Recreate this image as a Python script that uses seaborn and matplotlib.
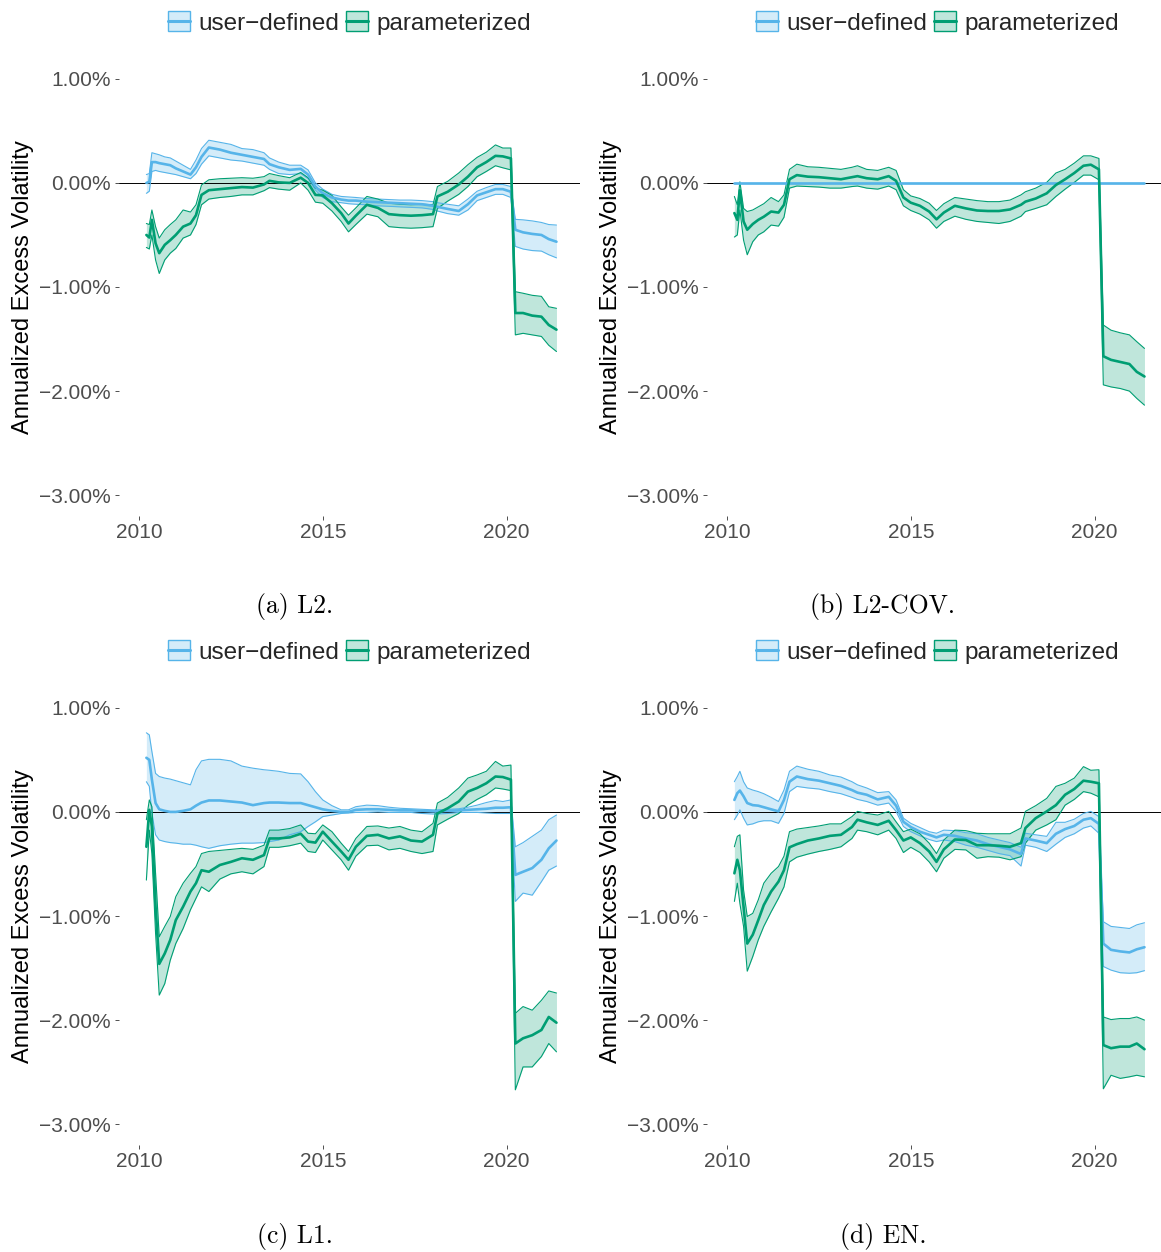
import pandas as pd
import matplotlib
matplotlib.use("Agg")
import matplotlib.pyplot as plt
import seaborn as sns
from matplotlib.patches import Patch
from matplotlib.lines import Line2D
from matplotlib.legend_handler import HandlerTuple
from matplotlib.ticker import FuncFormatter

# decimal years, shared by all panels
years = [2010.20, 2010.28, 2010.35, 2010.45, 2010.55, 2010.70, 2010.85, 2011.00, 2011.20, 2011.40,
         2011.55, 2011.70, 2011.90, 2012.20, 2012.50, 2012.80, 2013.10, 2013.40, 2013.55, 2013.80,
         2014.10, 2014.40, 2014.60, 2014.80, 2015.00, 2015.25, 2015.50, 2015.70, 2015.90, 2016.20,
         2016.50, 2016.80, 2017.10, 2017.40, 2017.70, 2018.00, 2018.12, 2018.40, 2018.70, 2018.95,
         2019.20, 2019.45, 2019.70, 2019.90, 2020.12, 2020.24, 2020.45, 2020.70, 2020.95, 2021.15,
         2021.36]

# values in percent
# (a) L2
l2_user_mean = [0.00, 0.01, 0.20, 0.20, 0.19, 0.18, 0.17, 0.14, 0.11, 0.08, 0.15, 0.25, 0.34, 0.32, 0.29, 0.27, 0.25,
                0.23, 0.18, 0.15, 0.125, 0.135, 0.08, -0.035, -0.10, -0.14, -0.16, -0.17, -0.17, -0.18, -0.185, -0.19,
                -0.195, -0.20, -0.205, -0.22, -0.23, -0.25, -0.27, -0.205, -0.12, -0.09, -0.06, -0.06, -0.085, -0.45,
                -0.475, -0.49, -0.50, -0.54, -0.565]
l2_user_hi = [0.08, 0.09, 0.29, 0.28, 0.27, 0.25, 0.24, 0.21, 0.17, 0.13, 0.22, 0.33, 0.41, 0.39, 0.37, 0.33, 0.32,
              0.29, 0.24, 0.20, 0.17, 0.17, 0.125, 0.00, -0.06, -0.11, -0.13, -0.135, -0.14, -0.15, -0.155, -0.16,
              -0.165, -0.165, -0.17, -0.18, -0.19, -0.205, -0.22, -0.155, -0.08, -0.045, -0.015, -0.015, -0.035,
              -0.35, -0.355, -0.365, -0.38, -0.40, -0.405]
l2_user_lo = [-0.10, -0.08, 0.11, 0.12, 0.11, 0.10, 0.09, 0.08, 0.06, 0.04, 0.09, 0.18, 0.26, 0.24, 0.22, 0.21, 0.19,
              0.17, 0.13, 0.09, 0.08, 0.09, 0.04, -0.07, -0.14, -0.18, -0.19, -0.20, -0.205, -0.21, -0.22, -0.225,
              -0.23, -0.235, -0.24, -0.255, -0.27, -0.295, -0.31, -0.26, -0.17, -0.14, -0.11, -0.11, -0.14, -0.61,
              -0.635, -0.65, -0.655, -0.69, -0.72]
l2_par_mean = [-0.50, -0.525, -0.355, -0.58, -0.675, -0.595, -0.55, -0.50, -0.42, -0.39, -0.31, -0.115, -0.07, -0.06,
               -0.05, -0.04, -0.045, -0.015, 0.02, 0.005, 0.00, 0.05, 0.00, -0.115, -0.12, -0.195, -0.29, -0.39,
               -0.315, -0.21, -0.24, -0.30, -0.31, -0.315, -0.31, -0.30, -0.13, -0.085, -0.015, 0.06, 0.15, 0.20,
               0.26, 0.255, 0.235, -1.25, -1.25, -1.275, -1.285, -1.365, -1.41]
l2_par_hi = [-0.39, -0.40, -0.26, -0.42, -0.53, -0.45, -0.40, -0.355, -0.26, -0.28, -0.21, -0.02, 0.03, 0.04, 0.045,
             0.05, 0.045, 0.06, 0.09, 0.07, 0.05, 0.10, 0.05, -0.05, -0.07, -0.12, -0.23, -0.31, -0.24, -0.13, -0.155,
             -0.195, -0.205, -0.21, -0.205, -0.21, -0.035, 0.015, 0.095, 0.175, 0.245, 0.295, 0.365, 0.335, 0.335,
             -1.045, -1.06, -1.08, -1.09, -1.19, -1.205]
l2_par_lo = [-0.62, -0.635, -0.50, -0.74, -0.87, -0.74, -0.675, -0.63, -0.53, -0.50, -0.40, -0.21, -0.155, -0.14,
             -0.13, -0.115, -0.115, -0.075, -0.045, -0.06, -0.07, 0.00, -0.07, -0.185, -0.195, -0.27, -0.37, -0.47,
             -0.40, -0.30, -0.325, -0.42, -0.43, -0.435, -0.43, -0.42, -0.245, -0.175, -0.11, -0.035, 0.06, 0.11,
             0.165, 0.145, 0.125, -1.46, -1.445, -1.46, -1.475, -1.56, -1.62]

# (b) L2-COV: the user-defined model sits on zero
cov_user_mean = [0.0, 0.0, 0.0, 0.0, 0.0, 0.0, 0.0, 0.0, 0.0, 0.0, 0.0, 0.0, 0.0, 0.0, 0.0, 0.0, 0.0,
                 0.0, 0.0, 0.0, 0.0, 0.0, 0.0, 0.0, 0.0, 0.0, 0.0, 0.0, 0.0, 0.0, 0.0, 0.0, 0.0, 0.0,
                 0.0, 0.0, 0.0, 0.0, 0.0, 0.0, 0.0, 0.0, 0.0, 0.0, 0.0, 0.0, 0.0, 0.0, 0.0, 0.0, 0.0]
cov_user_hi = cov_user_mean
cov_user_lo = cov_user_mean
cov_par_mean = [-0.29, -0.355, -0.07, -0.37, -0.45, -0.395, -0.355, -0.325, -0.275, -0.285, -0.21, 0.035, 0.075,
                0.06, 0.055, 0.045, 0.035, 0.055, 0.065, 0.045, 0.035, 0.065, 0.02, -0.14, -0.19, -0.22, -0.275,
                -0.35, -0.285, -0.22, -0.245, -0.265, -0.27, -0.27, -0.255, -0.21, -0.18, -0.15, -0.10, -0.02,
                0.035, 0.095, 0.165, 0.175, 0.13, -1.665, -1.70, -1.72, -1.74, -1.815, -1.86]
cov_par_hi = [-0.13, -0.21, 0.01, -0.245, -0.275, -0.26, -0.23, -0.20, -0.14, -0.18, -0.115, 0.13, 0.18, 0.155,
              0.15, 0.14, 0.13, 0.15, 0.165, 0.13, 0.12, 0.15, 0.12, -0.065, -0.125, -0.15, -0.195, -0.265, -0.20,
              -0.14, -0.155, -0.17, -0.18, -0.18, -0.165, -0.115, -0.085, -0.05, 0.005, 0.095, 0.13, 0.19, 0.26,
              0.26, 0.235, -1.365, -1.415, -1.44, -1.46, -1.525, -1.59]
cov_par_lo = [-0.52, -0.50, -0.26, -0.55, -0.69, -0.565, -0.50, -0.47, -0.405, -0.415, -0.33, -0.05, -0.03, -0.035,
              -0.04, -0.05, -0.05, -0.035, -0.03, -0.05, -0.06, -0.03, -0.065, -0.22, -0.265, -0.30, -0.355, -0.435,
              -0.37, -0.32, -0.35, -0.37, -0.38, -0.39, -0.37, -0.32, -0.275, -0.245, -0.21, -0.13, -0.06, 0.005,
              0.075, 0.075, 0.03, -1.94, -1.96, -1.975, -2.00, -2.07, -2.135]

# (c) L1
l1_user_mean = [0.52, 0.50, 0.31, 0.085, 0.025, 0.01, 0.00, 0.00, 0.01, 0.025, 0.06, 0.09, 0.11, 0.11, 0.10, 0.09,
                0.065, 0.085, 0.09, 0.09, 0.085, 0.085, 0.065, 0.045, 0.025, 0.01, 0.00, 0.00, 0.02, 0.025, 0.025,
                0.02, 0.015, 0.015, 0.01, 0.005, 0.005, 0.01, 0.015, 0.02, 0.025, 0.03, 0.04, 0.04, 0.045, -0.605,
                -0.575, -0.54, -0.46, -0.35, -0.275]
l1_user_hi = [0.76, 0.74, 0.58, 0.37, 0.34, 0.325, 0.315, 0.30, 0.28, 0.26, 0.405, 0.49, 0.505, 0.505, 0.49, 0.44,
              0.42, 0.405, 0.40, 0.39, 0.37, 0.365, 0.29, 0.195, 0.115, 0.06, 0.02, 0.02, 0.05, 0.065, 0.06, 0.045,
              0.035, 0.03, 0.025, 0.02, 0.02, 0.025, 0.03, 0.045, 0.065, 0.09, 0.11, 0.10, 0.115, -0.335, -0.295,
              -0.235, -0.175, -0.075, -0.03]
l1_user_lo = [0.29, 0.245, -0.01, -0.22, -0.27, -0.285, -0.295, -0.30, -0.31, -0.31, -0.32, -0.335, -0.35, -0.325,
              -0.31, -0.30, -0.30, -0.295, -0.285, -0.27, -0.22, -0.19, -0.14, -0.095, -0.045, -0.03, -0.015, -0.01,
              -0.005, -0.005, 0.00, -0.005, -0.005, -0.005, -0.015, -0.02, -0.02, -0.015, -0.005, -0.005, -0.005,
              -0.01, -0.015, -0.015, -0.015, -0.86, -0.78, -0.80, -0.67, -0.56, -0.52]
l1_par_mean = [-0.335, 0.02, -0.14, -0.91, -1.46, -1.36, -1.23, -1.04, -0.91, -0.765, -0.685, -0.56, -0.575, -0.51,
               -0.48, -0.445, -0.46, -0.415, -0.255, -0.255, -0.245, -0.21, -0.285, -0.295, -0.19, -0.285, -0.38,
               -0.46, -0.335, -0.23, -0.22, -0.255, -0.235, -0.275, -0.285, -0.22, -0.015, 0.035, 0.10, 0.195, 0.23,
               0.275, 0.34, 0.335, 0.31, -2.225, -2.175, -2.145, -2.095, -1.97, -2.025]
l1_par_hi = [-0.075, 0.115, 0.05, -0.59, -1.20, -1.10, -1.005, -0.815, -0.685, -0.59, -0.525, -0.40, -0.38, -0.37,
             -0.36, -0.35, -0.36, -0.32, -0.175, -0.175, -0.16, -0.125, -0.205, -0.21, -0.125, -0.19, -0.30, -0.38,
             -0.255, -0.14, -0.135, -0.155, -0.14, -0.175, -0.19, -0.11, 0.085, 0.14, 0.23, 0.325, 0.355, 0.39, 0.485,
             0.44, 0.45, -1.935, -1.87, -1.905, -1.81, -1.72, -1.74]
l1_par_lo = [-0.655, -0.175, -0.40, -1.165, -1.76, -1.65, -1.425, -1.265, -1.12, -0.94, -0.83, -0.72, -0.765, -0.645,
             -0.595, -0.575, -0.595, -0.525, -0.34, -0.34, -0.325, -0.30, -0.38, -0.39, -0.27, -0.365, -0.46, -0.56,
             -0.425, -0.325, -0.32, -0.365, -0.35, -0.38, -0.40, -0.38, -0.125, -0.07, -0.015, 0.065, 0.12, 0.165,
             0.23, 0.22, 0.205, -2.67, -2.45, -2.45, -2.35, -2.225, -2.305]

# (d) EN
en_user_mean = [0.115, 0.18, 0.205, 0.15, 0.085, 0.065, 0.06, 0.045, 0.025, 0.005, 0.115, 0.29, 0.34, 0.315, 0.30,
                0.275, 0.25, 0.21, 0.185, 0.165, 0.12, 0.145, 0.06, -0.095, -0.145, -0.19, -0.22, -0.245, -0.22,
                -0.23, -0.255, -0.275, -0.31, -0.335, -0.36, -0.405, -0.255, -0.275, -0.30, -0.21, -0.165, -0.135,
                -0.075, -0.06, -0.115, -1.265, -1.325, -1.34, -1.35, -1.32, -1.30]
en_user_hi = [0.29, 0.34, 0.39, 0.29, 0.23, 0.21, 0.195, 0.175, 0.14, 0.10, 0.21, 0.39, 0.44, 0.41, 0.39, 0.355,
              0.335, 0.29, 0.26, 0.23, 0.185, 0.195, 0.115, -0.06, -0.11, -0.15, -0.19, -0.205, -0.175, -0.18, -0.20,
              -0.21, -0.245, -0.27, -0.295, -0.34, -0.205, -0.22, -0.235, -0.10, -0.10, -0.07, -0.015, 0.005, -0.045,
              -1.055, -1.10, -1.11, -1.12, -1.085, -1.065]
en_user_lo = [-0.075, -0.03, 0.02, -0.06, -0.125, -0.115, -0.095, -0.085, -0.085, -0.11, -0.015, 0.195, 0.245, 0.23,
              0.22, 0.195, 0.175, 0.14, 0.12, 0.10, 0.065, 0.085, 0.005, -0.14, -0.19, -0.23, -0.265, -0.285, -0.27,
              -0.285, -0.32, -0.34, -0.37, -0.40, -0.42, -0.52, -0.32, -0.34, -0.38, -0.31, -0.245, -0.21, -0.155,
              -0.135, -0.205, -1.485, -1.52, -1.545, -1.55, -1.545, -1.525]
en_par_mean = [-0.59, -0.46, -0.56, -0.91, -1.265, -1.18, -1.04, -0.895, -0.765, -0.67, -0.56, -0.34, -0.31, -0.275,
               -0.255, -0.23, -0.22, -0.145, -0.075, -0.10, -0.125, -0.085, -0.175, -0.275, -0.245, -0.30, -0.38,
               -0.48, -0.36, -0.265, -0.27, -0.32, -0.32, -0.325, -0.335, -0.30, -0.155, -0.06, 0.005, 0.065, 0.165,
               0.22, 0.30, 0.29, 0.275, -2.24, -2.27, -2.255, -2.255, -2.225, -2.28]
en_par_hi = [-0.335, -0.235, -0.22, -0.75, -1.005, -0.975, -0.845, -0.685, -0.59, -0.525, -0.425, -0.19, -0.165,
             -0.15, -0.135, -0.115, -0.115, -0.045, 0.005, -0.015, -0.03, 0.005, -0.095, -0.19, -0.165, -0.21, -0.30,
             -0.40, -0.27, -0.175, -0.18, -0.205, -0.21, -0.21, -0.21, -0.155, 0.005, 0.06, 0.13, 0.245, 0.275,
             0.325, 0.435, 0.40, 0.405, -1.97, -1.995, -1.985, -1.985, -1.97, -2.00]
en_par_lo = [-0.86, -0.685, -0.88, -1.10, -1.53, -1.39, -1.23, -1.10, -0.96, -0.83, -0.72, -0.48, -0.435, -0.405,
             -0.38, -0.36, -0.335, -0.255, -0.175, -0.19, -0.22, -0.175, -0.255, -0.39, -0.34, -0.39, -0.48, -0.575,
             -0.445, -0.36, -0.365, -0.445, -0.43, -0.435, -0.46, -0.43, -0.30, -0.175, -0.125, -0.075, 0.065, 0.12,
             0.195, 0.18, 0.145, -2.66, -2.53, -2.56, -2.545, -2.53, -2.545]

methods = ["user\u2212defined", "parameterized"]
colors = {"user\u2212defined": "#56B4E9", "parameterized": "#009E73"}
x_ticks = [2010, 2015, 2020]
y_ticks = [-3, -2, -1, 0, 1]
y_label = "Annualized Excess Volatility"

panels = [
    ("(a) L2.", (l2_user_mean, l2_user_lo, l2_user_hi), (l2_par_mean, l2_par_lo, l2_par_hi)),
    ("(b) L2-COV.", (cov_user_mean, cov_user_lo, cov_user_hi), (cov_par_mean, cov_par_lo, cov_par_hi)),
    ("(c) L1.", (l1_user_mean, l1_user_lo, l1_user_hi), (l1_par_mean, l1_par_lo, l1_par_hi)),
    ("(d) EN.", (en_user_mean, en_user_lo, en_user_hi), (en_par_mean, en_par_lo, en_par_hi)),
]


def panel_frame(user, par):
    frames = []
    for name, (mean, lo, hi) in zip(methods, [user, par]):
        frames.append(pd.DataFrame({"year": years, "mean": mean, "lo": lo, "hi": hi, "method": name}))
    return pd.concat(frames, ignore_index=True)


def pct(v, pos):
    return "{:.2f}%".format(v).replace("-", "\u2212")


sns.set_style("white")
plt.rcParams["font.family"] = ["Liberation Sans", "DejaVu Sans"]

W, H = 1161, 1252
fig = plt.figure(figsize=(W / 100, H / 100), dpi=100)

# pixel layout of panels: (left, top)
lefts = [119, 707]
tops = [58, 687]
pw, ph = 461, 458
cap_x = [295, 883]
cap_y = [606, 1236]

for i, (caption, user, par) in enumerate(panels):
    row, col = divmod(i, 2)
    left, top = lefts[col], tops[row]
    ax = fig.add_axes([left / W, 1 - (top + ph) / H, pw / W, ph / H])
    df = panel_frame(user, par)

    for name in methods:
        d = df[df["method"] == name]
        ax.fill_between(d["year"], d["lo"], d["hi"], color=colors[name], alpha=0.25, linewidth=0, zorder=1)
    ax.axhline(0, color="black", linewidth=0.7, zorder=2)
    for col_name, lw in [("lo", 0.8), ("hi", 0.8), ("mean", 1.9)]:
        sns.lineplot(data=df, x="year", y=col_name, hue="method", palette=colors, hue_order=methods,
                     estimator=None, errorbar=None, linewidth=lw, legend=False, ax=ax, zorder=3)

    ax.set_xlim(2009.455, 2022.0)
    ax.set_ylim(-3.2, 1.2)
    ax.set_xticks(x_ticks)
    ax.set_yticks(y_ticks)
    ax.yaxis.set_major_formatter(FuncFormatter(pct))
    ax.tick_params(axis="both", which="both", length=3, width=0.6, color="#333333",
                   labelcolor="#4D4D4D", labelsize=15, left=True, bottom=True)
    ax.tick_params(axis="y", pad=3)
    ax.tick_params(axis="x", pad=2)
    for s in ax.spines.values():
        s.set_visible(False)
    ax.set_xlabel("")
    ax.set_ylabel(y_label, fontsize=17, color="black", va="center")
    ax.yaxis.set_label_coords(-0.208, 0.5)

    handles = []
    for name in methods:
        patch = Patch(facecolor=colors[name], alpha=0.25, edgecolor="none")
        edge = Patch(facecolor="none", edgecolor=colors[name], linewidth=1.0)
        line = Line2D([], [], color=colors[name], linewidth=2.2)
        handles.append((patch, edge, line))
    ax.legend(handles, methods, handler_map={tuple: HandlerTuple(ndivide=1)}, ncol=2, frameon=False,
              loc="center", bbox_to_anchor=(0.5, (ph + 35) / ph), fontsize=17.5,
              handlelength=0.9, handleheight=0.9, handletextpad=0.33, columnspacing=0.3, borderpad=0)

    fig.text(cap_x[col] / W, 1 - cap_y[row] / H, caption, family="cmr10", fontsize=18.5,
             ha="center", va="center", color="black")

fig.savefig("out.png", dpi=100, facecolor="white")
